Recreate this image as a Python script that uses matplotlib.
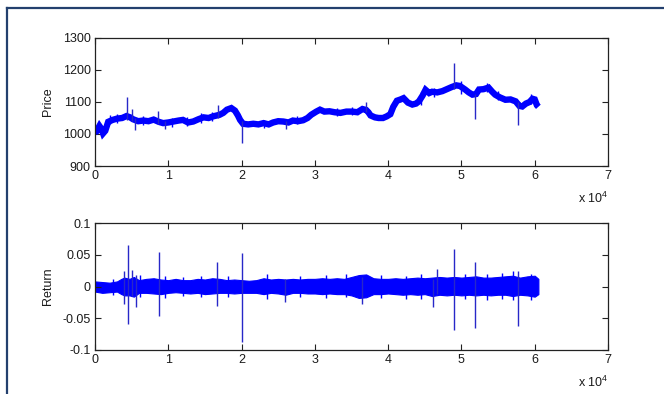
import matplotlib
matplotlib.use("Agg")
import matplotlib.pyplot as plt
from matplotlib.lines import Line2D

plt.rcParams['font.family'] = ['Liberation Sans', 'DejaVu Sans']
plt.rcParams['mathtext.default'] = 'regular'

# ---------------- data (x in units of 1e4 samples) ----------------
price_x = [0.00, 0.02, 0.06, 0.09, 0.11, 0.14, 0.18, 0.24, 0.30, 0.37, 0.43, 0.48, 0.52,
           0.59, 0.66, 0.73, 0.80, 0.87, 0.93, 1.00, 1.07, 1.14, 1.20, 1.27, 1.34, 1.41,
           1.48, 1.55, 1.61, 1.70, 1.75, 1.80, 1.86, 1.91, 1.95, 1.98, 2.02, 2.09, 2.16,
           2.23, 2.30, 2.37, 2.43, 2.50, 2.57, 2.64, 2.70, 2.77, 2.84, 2.90, 2.95, 3.02,
           3.07, 3.13, 3.20, 3.27, 3.35, 3.43, 3.51, 3.58, 3.65, 3.70, 3.73, 3.76, 3.82,
           3.87, 3.93, 3.98, 4.03, 4.07, 4.12, 4.17, 4.21, 4.27, 4.33, 4.38, 4.42, 4.47,
           4.51, 4.56, 4.60, 4.67, 4.74, 4.80, 4.87, 4.93, 4.98, 5.05, 5.10, 5.15, 5.20,
           5.24, 5.30, 5.37, 5.42, 5.46, 5.52, 5.60, 5.67, 5.74, 5.79, 5.83, 5.88, 5.93,
           5.97, 6.00, 6.03, 6.05]
price_mid = [1005, 1008, 1025, 1015, 1002, 1010, 1038, 1044, 1048, 1050, 1056, 1052, 1046,
             1040, 1042, 1040, 1045, 1038, 1034, 1036, 1039, 1042, 1044, 1036, 1039, 1046,
             1052, 1050, 1055, 1060, 1066, 1076, 1081, 1073, 1058, 1044, 1032, 1030, 1032,
             1030, 1034, 1030, 1036, 1040, 1039, 1036, 1042, 1040, 1043, 1050, 1060, 1070,
             1076, 1070, 1071, 1068, 1066, 1070, 1070, 1068, 1078, 1075, 1068, 1058, 1052,
             1050, 1050, 1055, 1062, 1085, 1104, 1108, 1112, 1098, 1092, 1095, 1102, 1120,
             1138, 1128, 1132, 1130, 1134, 1140, 1147, 1152, 1150, 1139, 1130, 1123, 1125,
             1139, 1140, 1145, 1132, 1123, 1115, 1107, 1108, 1102, 1088, 1086, 1095, 1100,
             1110, 1108, 1090, 1085]

# large isolated price jumps
price_spike_x = [0.44, 0.51, 0.55, 0.86, 0.95, 1.68, 2.01, 2.60, 3.70, 4.90, 5.19, 5.77]
price_spike_lo = [1045, 1040, 1012, 1030, 1015, 1050, 972, 1015, 1068, 1140, 1046, 1028]
price_spike_hi = [1117, 1078, 1050, 1072, 1040, 1090, 1040, 1040, 1100, 1223, 1125, 1100]

# small hairs sticking out of the price band
price_hair_x = [0.20, 0.30, 0.65, 1.05, 1.25, 1.45, 1.60, 2.30, 2.75, 3.30, 3.50, 4.45,
                4.63, 5.00, 5.35, 5.50, 5.95]
price_hair_lo = [1030, 1035, 1028, 1022, 1025, 1035, 1040, 1018, 1030, 1055, 1058, 1090,
                 1115, 1125, 1130, 1105, 1095]
price_hair_hi = [1058, 1062, 1055, 1050, 1052, 1065, 1070, 1045, 1055, 1082, 1085, 1130,
                 1145, 1165, 1160, 1135, 1125]

ret_x = [0.00, 0.10, 0.20, 0.30, 0.36, 0.40, 0.47, 0.53, 0.60, 0.70, 0.80, 0.90, 1.00,
         1.10, 1.20, 1.30, 1.40, 1.50, 1.60, 1.70, 1.80, 1.90, 2.00, 2.10, 2.20, 2.30,
         2.40, 2.50, 2.60, 2.70, 2.80, 2.90, 3.00, 3.10, 3.20, 3.30, 3.40, 3.50, 3.60,
         3.70, 3.80, 3.90, 4.00, 4.10, 4.20, 4.30, 4.40, 4.50, 4.60, 4.70, 4.80, 4.90,
         5.00, 5.10, 5.20, 5.30, 5.40, 5.50, 5.60, 5.70, 5.80, 5.90, 6.00, 6.05]
ret_hi = [0.008, 0.007, 0.006, 0.008, 0.012, 0.014, 0.012, 0.015, 0.010, 0.012, 0.013, 0.011,
          0.010, 0.012, 0.010, 0.010, 0.012, 0.011, 0.013, 0.012, 0.010, 0.011, 0.010, 0.009,
          0.010, 0.013, 0.011, 0.012, 0.011, 0.012, 0.011, 0.012, 0.012, 0.013, 0.012, 0.013,
          0.012, 0.015, 0.018, 0.019, 0.013, 0.012, 0.012, 0.013, 0.012, 0.013, 0.014, 0.013,
          0.014, 0.015, 0.014, 0.015, 0.014, 0.015, 0.016, 0.014, 0.014, 0.015, 0.016, 0.017,
          0.014, 0.016, 0.017, 0.012]
ret_lo = [-0.008, -0.010, -0.009, -0.008, -0.012, -0.014, -0.014, -0.016, -0.010, -0.010,
          -0.011, -0.012, -0.010, -0.009, -0.010, -0.011, -0.010, -0.012, -0.011, -0.010,
          -0.010, -0.011, -0.010, -0.010, -0.010, -0.012, -0.010, -0.011, -0.013, -0.010,
          -0.010, -0.011, -0.011, -0.012, -0.011, -0.012, -0.012, -0.014, -0.018, -0.017,
          -0.012, -0.012, -0.011, -0.012, -0.013, -0.012, -0.013, -0.012, -0.015, -0.013,
          -0.014, -0.013, -0.014, -0.013, -0.014, -0.013, -0.014, -0.013, -0.013, -0.015,
          -0.013, -0.014, -0.016, -0.012]

ret_spike_x = [0.395, 0.445, 0.51, 0.56, 0.87, 1.67, 2.01, 2.59, 3.65, 4.61, 4.67, 4.905, 5.19, 5.77]
ret_spike_hi = [0.024, 0.066, 0.026, 0.018, 0.055, 0.039, 0.052, 0.012, 0.015, 0.012, 0.028, 0.059, 0.039, 0.024]
ret_spike_lo = [-0.027, -0.059, -0.015, -0.033, -0.047, -0.031, -0.087, -0.024, -0.027, -0.032, -0.012, -0.068, -0.066, -0.062]

# small hairs on the return band edges
ret_hair_x = [0.25, 0.62, 0.95, 1.20, 1.45, 1.82, 2.35, 2.80, 3.15, 3.42, 3.90, 4.25,
              4.45, 5.05, 5.35, 5.55, 5.70, 5.95]
ret_hair_hi = [0.012, 0.018, 0.016, 0.015, 0.017, 0.016, 0.020, 0.017, 0.018, 0.019, 0.018,
               0.017, 0.020, 0.019, 0.020, 0.021, 0.024, 0.020]
ret_hair_lo = [-0.014, -0.016, -0.018, -0.015, -0.017, -0.016, -0.019, -0.016, -0.018,
               -0.017, -0.018, -0.020, -0.019, -0.020, -0.021, -0.020, -0.022, -0.022]

x_ticks = [0, 1, 2, 3, 4, 5, 6, 7]
price_ticks = [900, 1000, 1100, 1200, 1300]
ret_ticks = [-0.1, -0.05, 0, 0.05, 0.1]
ret_tick_labels = ['-0.1', '-0.05', '0', '0.05', '0.1']

# ---------------- figure ----------------
W, H = 664, 394
fig = plt.figure(figsize=(W / 100, H / 100), dpi=100)
fig.patch.set_facecolor('white')

# outer frame (top and left edge visible)
navy = '#23406e'
fig.add_artist(Line2D([6.5 / W, 6.5 / W], [0, 1 - 7.5 / H], color=navy, lw=1.6,
                      transform=fig.transFigure))
fig.add_artist(Line2D([6.5 / W, 1], [1 - 7.5 / H, 1 - 7.5 / H], color=navy, lw=1.6,
                      transform=fig.transFigure))

ax1 = fig.add_axes([95 / W, 1 - 166 / H, 513 / W, 128 / H])
ax2 = fig.add_axes([95 / W, 1 - 350 / H, 513 / W, 127 / H])

blue = '#0000ff'
spk = '#2828c8'
txt = '#1a1a1a'

ax1.plot(price_x, price_mid, color=blue, lw=4.6, solid_joinstyle='miter', solid_capstyle='butt')
ax1.vlines(price_hair_x, price_hair_lo, price_hair_hi, color=blue, lw=1.0)
ax1.vlines(price_spike_x, price_spike_lo, price_spike_hi, color=spk, lw=1.0)

ax2.fill_between(ret_x, ret_lo, ret_hi, color=blue, lw=0.8, edgecolor=blue)
ax2.vlines(ret_hair_x, ret_hair_lo, ret_hair_hi, color=blue, lw=1.0)
ax2.vlines(ret_spike_x, ret_spike_lo, ret_spike_hi, color=spk, lw=1.0)

for ax in (ax1, ax2):
    ax.set_xlim(0, 7)
    ax.set_xticks(x_ticks)
    ax.set_xticklabels([str(t) for t in x_ticks])
    ax.tick_params(direction='in', top=True, right=True, length=4, width=0.8,
                   labelsize=9, colors='#222222', labelcolor=txt, pad=3)
    for s in ax.spines.values():
        s.set_color('#222222')
        s.set_linewidth(0.9)
    ax.text(1.0, -0.255, r'x 10$^{4}$', transform=ax.transAxes, ha='right', va='center',
            fontsize=9, color=txt)

ax1.set_ylim(900, 1300)
ax1.set_yticks(price_ticks)
ax1.set_yticklabels([str(t) for t in price_ticks])
ax1.set_ylabel('Price', fontsize=9, color=txt, labelpad=6)

ax2.set_ylim(-0.1, 0.1)
ax2.set_yticks(ret_ticks)
ax2.set_yticklabels(ret_tick_labels)
ax2.set_ylabel('Return', fontsize=9, color=txt, labelpad=6)

fig.savefig('out.png', dpi=100, facecolor='white')
